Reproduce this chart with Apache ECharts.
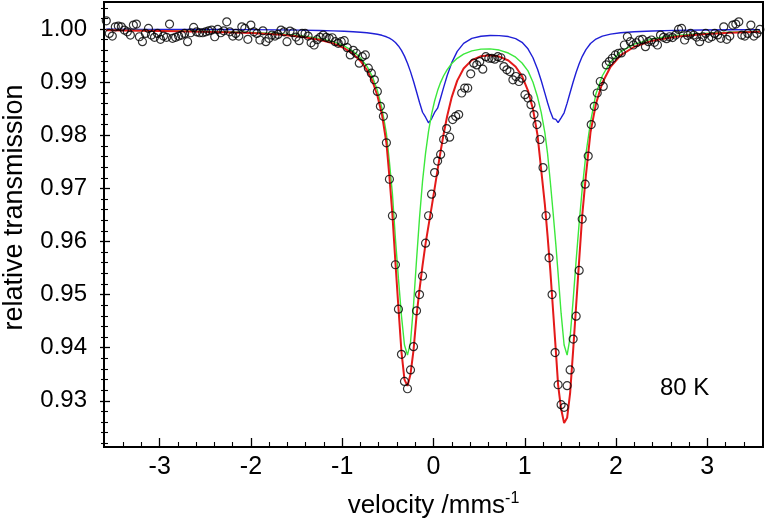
<!DOCTYPE html>
<html><head><meta charset="utf-8">
<script src="https://cdn.jsdelivr.net/npm/echarts@6/dist/echarts.min.js"></script>
<style>html,body{margin:0;padding:0;background:#fff}#c{width:765px;height:520px}</style>
</head><body><div id="c"></div>
<script>
// measured spectrum: velocity (mm/s) and relative transmission
const dataVel = [-3.585,-3.552,-3.519,-3.486,-3.453,-3.420,-3.387,-3.354,-3.321,-3.288,-3.255,-3.222,-3.189,-3.156,-3.123,-3.090,-3.057,-3.024,-2.991,-2.958,-2.925,-2.892,-2.859,-2.826,-2.793,-2.760,-2.727,-2.694,-2.661,-2.628,-2.595,-2.562,-2.529,-2.496,-2.463,-2.430,-2.397,-2.364,-2.331,-2.298,-2.265,-2.232,-2.199,-2.166,-2.133,-2.100,-2.067,-2.034,-2.001,-1.968,-1.935,-1.902,-1.869,-1.836,-1.803,-1.770,-1.737,-1.704,-1.671,-1.638,-1.605,-1.572,-1.539,-1.506,-1.473,-1.440,-1.407,-1.374,-1.341,-1.308,-1.275,-1.242,-1.209,-1.176,-1.143,-1.110,-1.077,-1.044,-1.011,-0.978,-0.945,-0.912,-0.879,-0.846,-0.813,-0.780,-0.747,-0.714,-0.681,-0.648,-0.615,-0.582,-0.549,-0.516,-0.483,-0.450,-0.417,-0.384,-0.351,-0.318,-0.285,-0.252,-0.219,-0.186,-0.153,-0.120,-0.087,-0.054,-0.021,0.012,0.045,0.078,0.111,0.144,0.177,0.210,0.243,0.276,0.309,0.342,0.375,0.408,0.441,0.474,0.507,0.540,0.573,0.606,0.639,0.672,0.705,0.738,0.771,0.804,0.837,0.870,0.903,0.936,0.969,1.002,1.035,1.068,1.101,1.134,1.167,1.200,1.233,1.266,1.299,1.332,1.365,1.398,1.431,1.464,1.497,1.530,1.563,1.596,1.629,1.662,1.695,1.728,1.761,1.794,1.827,1.860,1.893,1.926,1.959,1.992,2.025,2.058,2.091,2.124,2.157,2.190,2.223,2.256,2.289,2.322,2.355,2.388,2.421,2.454,2.487,2.520,2.553,2.586,2.619,2.652,2.685,2.718,2.751,2.784,2.817,2.850,2.883,2.916,2.949,2.982,3.015,3.048,3.081,3.114,3.147,3.180,3.213,3.246,3.279,3.312,3.345,3.378,3.411,3.444,3.477,3.510,3.543,3.576];
const dataTrans = [1.00155,.99919,.99869,1.00043,1.00056,1.00043,.99981,.99949,.99888,1.00075,1.00094,.99856,.99762,.99919,1.00013,.99888,.99845,.99919,.99807,.99869,.99845,1.00094,.99826,.99845,.99869,.99888,.99919,.99762,.99931,1.00032,.99949,.99931,.99931,.99949,.99968,.99981,.99856,.99994,.99931,.99968,1.00137,.99949,.99869,.99919,.99869,1.00043,1.00013,.99807,
1.00075,.99949,.99919,.99794,.99968,.99762,.99826,.99888,.99869,.999,.99981,.99949,.99762,.99963,.99931,.9985,.99781,.99919,.99919,.99869,.99743,.997,.998,.99845,.99888,.99845,.99826,.99837,.99762,.99732,.99762,.99781,.9965,
.99513,.996,.99545,.99358,.99481,.99513,.99264,.9917,.99045,.98826,.98545,.98358,.97859,.97172,.96485,.95562,.94725,.93876,.93365,.93227,.93582,.9402,.94694,.95,.9535,
.95968,.96485,.96891,.97298,.97515,.9764,.97921,.98127,.97965,.98296,.98358,.9839,.98796,.9889,.9889,.99157,.99358,.99326,.99388,.99245,.99481,.99451,.9945,.99433,.99481,.9946,.99294,.99232,
.992,.99045,.99107,.99013,.99076,.98764,.98702,.98577,.9839,.98202,.97921,.97391,.96485,.95693,.95,.93908,.93302,.92927,.92878,.93284,.93582,.94163,.94594,.95455,
.96423,.97079,.97609,.98202,.98545,.98796,.99013,.9892,.99326,.99388,.99451,.99513,.99545,.99551,.997,.99856,.99762,.997,.99743,.99794,.99807,.99669,.99762,.99794,.9975,.997,.99888,.99845,.9982,.99856,.9984,.99888,.99994,1.00013,.99794,.9988,.99919,.99888,.9985,.99762,.99856,.99919,.99826,.99856,.99919,.9989,.99826,1.00043,.99807,.99869,1.00075,1.00094,1.00137,.99888,.99869,.99919,1.00075,.99869,.99919,.99994];

// fitted curves
const curveVel = [-3.585,-3.2,-2.8,-2.4,-2.0,-1.7,-1.45,-1.25,-1.1,-0.98,-0.88,-0.8,-0.73,-0.67,-0.615,-0.565,-0.516,-0.483,-0.45,-0.417,-0.384,-0.351,-0.318,-0.285,-0.252,-0.219,-0.186,-0.153,-0.12,-0.087,-0.054,-0.021,0.012,0.045,0.078,0.111,0.15,0.2,0.26,0.33,0.42,0.52,0.62,0.72,0.82,0.9,0.97,1.035,1.09,1.14,1.18,1.22,1.25,1.28,1.31,1.34,1.365,1.398,1.431,1.464,1.497,1.53,1.563,1.596,1.63,1.67,1.72,1.78,1.85,1.94,2.05,2.2,2.4,2.65,2.95,3.25,3.576];
const fitTotal = [.99976,.99969,.99961,.99947,.99927,.99897,.99856,.998,.99731,.99643,.99532,.994,.99232,.99023,.98749,.98393,.9786,.9722,.9650,.9560,.9475,.9392,.9340,.9328,.9350,.9395,.9460,.9510,.9555,.9596,.96303,.96644,.96995,.97352,.977,.98024,.98363,.98719,.9903,.99259,.99415,.99489,.99507,.99482,.99408,.99291,.99113,.98842,.9849,.9800,.9735,.9670,.9610,.9545,.9470,.9395,.9330,.9285,.9258,.9268,.9315,.9395,.9480,.9565,.9650,.9725,.98056,.98595,.98989,.99291,.99504,.99667,.99782,.99857,.99903,.9993,.99948];
const fitSiteA = [.9998,.99974,.99967,.99955,.99938,.99912,.99876,.99826,.99764,.99684,.99582,.99459,.99302,.99106,.98847,.9851,.98035,.9750,.9690,.9605,.9530,.9460,.9405,.9386,.9410,.9480,.9565,.9645,.97137,.97665,.98077,.98397,.98646,.98842,.98997,.99121,.99237,.99351,.99449,.99527,.99589,.99623,.99628,.99605,.99549,.9947,.99362,.99213,.9900,.9872,.9843,.9805,.9765,.9712,.9655,.9595,.9540,.9465,.9405,.9386,.9420,.9490,.9565,.9635,.9700,.9765,.9825,.98783,.99121,.99386,.99574,.99717,.99817,.99881,.9992,.99943,.99958];
const fitSiteB = [.99996,.99995,.99994,.99992,.99989,.99985,.9998,.99974,.99967,.99959,.9995,.99941,.9993,.99917,.99902,.99883,.99855,.99829,.99794,.99746,.99683,.99599,.99491,.99358,.99199,.99017,.98819,.98618,.98434,.9834,.98234,.9831,.9843,.9851,.98703,.98903,.99126,.99368,.99581,.99732,.99826,.99866,.99879,.99877,.99859,.99821,.99751,.99629,.9946,.99245,.99032,.98794,.98613,.98446,.98314,.983,.9824,.9833,.98424,.98605,.98806,.99004,.99188,.99348,.99487,.99614,.99728,.99812,.99868,.99905,.9993,.9995,.99965,.99976,.99983,.99987,.9999];

// axis ticks
const xMajorTicks = [-3,-2,-1,0,1,2,3];
const xMinorTicks = [-3.4,-3.2,-2.8,-2.6,-2.4,-2.2,-1.8,-1.6,-1.4,-1.2,-0.8,-0.6,-0.4,-0.2,0.2,0.4,0.6,0.8,1.2,1.4,1.6,1.8,2.2,2.4,2.6,2.8,3.2,3.4];
const yMajorTicks = [0.93,0.94,0.95,0.96,0.97,0.98,0.99,1.00];
const yMinorTicks = [0.922,0.924,0.926,0.928,0.932,0.934,0.936,0.938,0.942,0.944,0.946,0.948,0.952,0.954,0.956,0.958,0.962,0.964,0.966,0.968,0.972,0.974,0.976,0.978,0.982,0.984,0.986,0.988,0.992,0.994,0.996,0.998,1.002,1.004];
const xTitle = 'velocity /mms{sup|-1}';
const yTitle = 'relative transmission';
const tempLabel = '80 K';

const FONT = '"Liberation Sans", Arial, Helvetica, sans-serif';
const X_MIN = -3.61, X_MAX = 3.61, Y_MIN = 0.9213, Y_MAX = 1.0051;

const chart = echarts.init(document.getElementById('c'), null, {renderer: 'canvas'});
const pairs = (xs, ys) => xs.map((v, i) => [v, ys[i]]);

function xAx(extra) {
  return Object.assign({type: 'value', min: X_MIN, max: X_MAX, position: 'bottom',
    splitLine: {show: false}, axisLine: {show: false, onZero: false}, axisLabel: {show: false},
    axisTick: {show: false}}, extra);
}
function yAx(extra) {
  return Object.assign({type: 'value', min: Y_MIN, max: Y_MAX, position: 'left',
    splitLine: {show: false}, axisLine: {show: false, onZero: false}, axisLabel: {show: false},
    axisTick: {show: false}}, extra);
}

chart.setOption({
  animation: false,
  backgroundColor: '#fff',
  textStyle: {fontFamily: FONT},
  grid: {left: 104, right: 2, top: 2, bottom: 73, show: true, borderColor: '#000', borderWidth: 2,
    containLabel: false, outerBoundsMode: 'none'},
  xAxis: [
    xAx({
      axisLine: {show: true, onZero: false, lineStyle: {color: '#000', width: 2}},
      axisTick: {show: true, inside: true, length: 9, customValues: xMajorTicks, lineStyle: {color: '#000', width: 1.3}},
      axisLabel: {show: true, customValues: xMajorTicks, margin: 8, fontSize: 25, color: '#000', fontFamily: FONT,
        formatter: v => String(Math.round(v))},
      name: xTitle, nameLocation: 'middle', nameGap: 44,
      nameTextStyle: {fontSize: 26, color: '#000', fontFamily: FONT, lineHeight: 30,
        rich: {sup: {fontSize: 16, verticalAlign: 'top', lineHeight: 30, color: '#000', fontFamily: FONT}}}
    }),
    xAx({axisTick: {show: true, inside: true, length: 5, customValues: xMinorTicks, lineStyle: {color: '#000', width: 1.1}}})
  ],
  yAxis: [
    yAx({
      axisLine: {show: true, onZero: false, lineStyle: {color: '#000', width: 2}},
      axisTick: {show: true, inside: false, length: 4, customValues: yMajorTicks, lineStyle: {color: '#000', width: 1.3}},
      axisLabel: {show: true, customValues: yMajorTicks, margin: 17, fontSize: 24, color: '#000', fontFamily: FONT,
        formatter: v => v.toFixed(2)},
      name: yTitle, nameLocation: 'middle', nameGap: 76,
      nameTextStyle: {fontSize: 27, color: '#000', fontFamily: FONT, padding: [0, 0, 0, 34]}
    }),
    yAx({axisTick: {show: true, inside: true, length: 6, customValues: yMajorTicks, lineStyle: {color: '#000', width: 1.3}}}),
    yAx({axisTick: {show: true, inside: false, length: 3, customValues: yMinorTicks, lineStyle: {color: '#000', width: 1.1}}}),
    yAx({axisTick: {show: true, inside: true, length: 4, customValues: yMinorTicks, lineStyle: {color: '#000', width: 1.1}}})
  ],
  series: [
    {type: 'line', name: 'site B', data: pairs(curveVel, fitSiteB), symbol: 'none', smooth: false,
      lineStyle: {color: '#1f1fd6', width: 1.4}, z: 2, silent: true},
    {type: 'line', name: 'site A', data: pairs(curveVel, fitSiteA), symbol: 'none', smooth: false,
      lineStyle: {color: '#3ce83c', width: 1.4}, z: 3, silent: true},
    {type: 'line', name: 'total', data: pairs(curveVel, fitTotal), symbol: 'none', smooth: false,
      lineStyle: {color: '#e41a1a', width: 2}, z: 4, silent: true},
    {type: 'scatter', name: 'data', data: pairs(dataVel, dataTrans), symbol: 'circle', symbolSize: 8,
      itemStyle: {color: 'rgba(255,255,255,0)', borderColor: '#000', borderWidth: 1.2}, z: 5, silent: true}
  ],
  graphic: [
    {type: 'text', left: 660, top: 376, z: 10,
      style: {text: tempLabel, fontSize: 24, fill: '#000', fontFamily: FONT}}
  ]
});
</script>
</body></html>
